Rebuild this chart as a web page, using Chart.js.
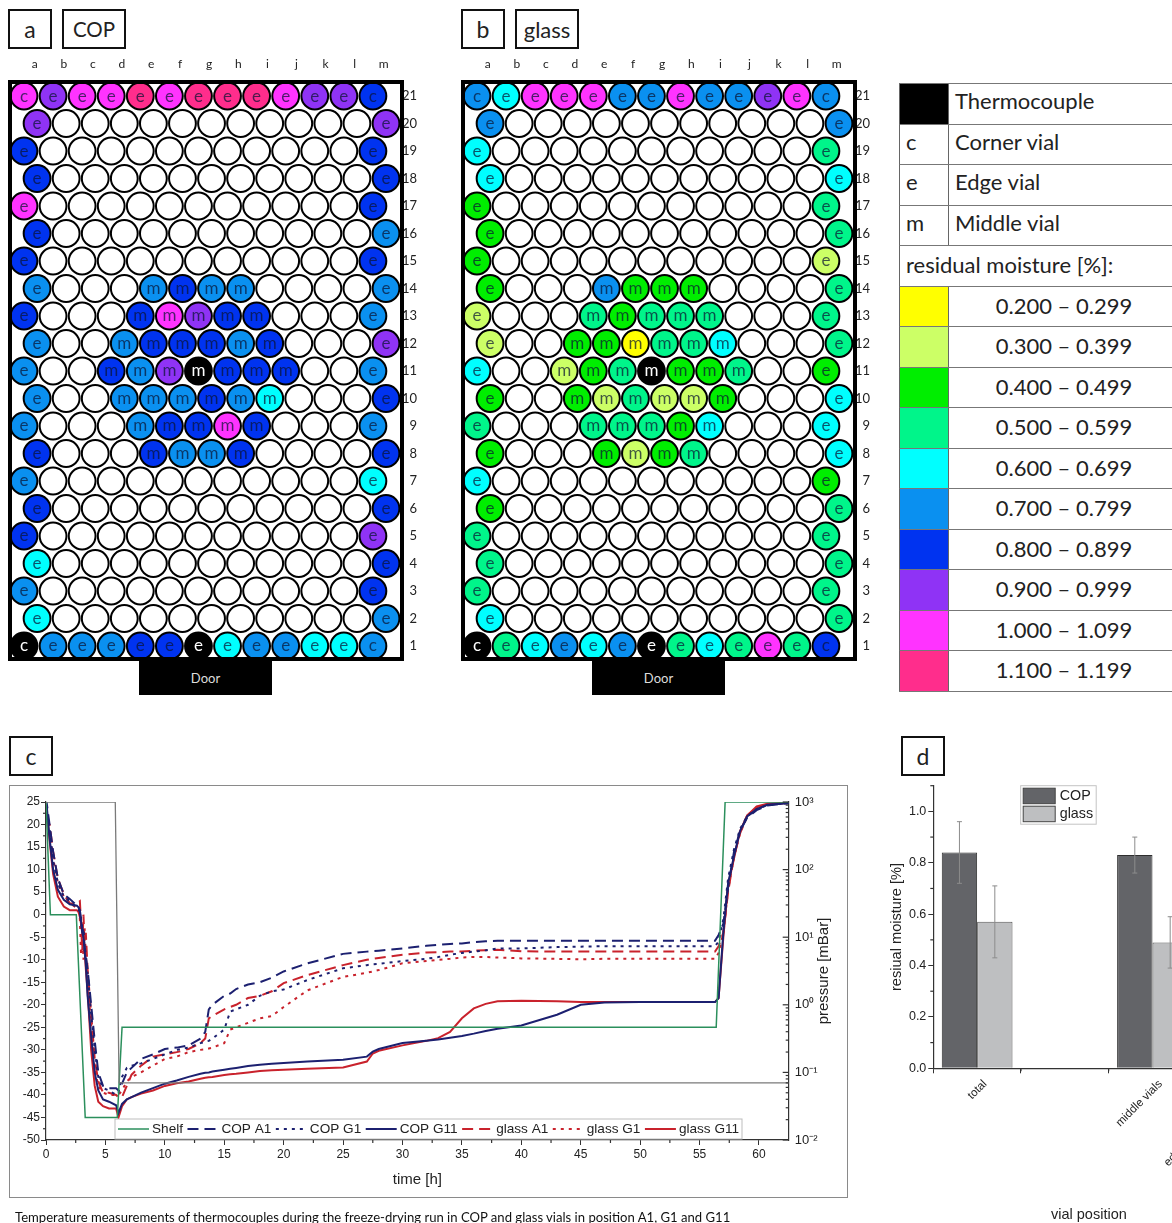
<!DOCTYPE html>
<html>
<head>
<meta charset="utf-8">
<title>Freeze-drying residual moisture</title>
<script src="https://cdn.jsdelivr.net/npm/chart.js@4/dist/chart.umd.min.js"></script>
<style>
html, body { margin: 0; padding: 0; background: #fff; width: 1172px; height: 1223px; overflow: hidden; }
body { position: relative; font-family: 'Lato', sans-serif; color: #222; }
canvas { position: absolute; }
.box { position: absolute; box-sizing: border-box; border: 2px solid #111; display: flex; align-items: center; justify-content: center; font-size: 23px; background: #fff; }
.door { position: absolute; top: 661px; width: 133px; height: 34px; background: #000; color: #ddd; font-size: 13px; display: flex; align-items: center; justify-content: center; }
.frame { position: absolute; left: 9px; top: 785px; width: 839px; height: 413px; box-sizing: border-box; border: 1.5px solid #8a8a8a; }
.key-row { position: absolute; left: 899px; width: 300px; height: 40.5px; box-sizing: border-box; border-top: 1.5px solid #777; border-left: 1.5px solid #666; font-size: 22px; }
.key-row .swatch { position: absolute; left: 0; top: 0; bottom: 0; width: 49px; border-right: 1.5px solid #666; padding-left: 6px; box-sizing: border-box; line-height: 33px; }
.key-row .name { position: absolute; left: 55px; top: 0; line-height: 33px; white-space: nowrap; }
.key-row .range { position: absolute; left: 50px; width: 228px; top: 0; line-height: 38px; text-align: center; }
.key-row .wide { position: absolute; left: 6px; top: 0; line-height: 38px; white-space: nowrap; }
.caption { position: absolute; left: 15px; top: 1209px; font-size: 13.1px; white-space: nowrap; color: #111; }
.xname { position: absolute; left: 1051px; top: 1206px; font: 14.5px 'Liberation Sans', sans-serif; color: #222; }
</style>
</head>
<body>
<div class="box" style="left:8px;top:9px;width:44px;height:40px">a</div>
<div class="box" style="left:62px;top:9px;width:64px;height:40px;font-size:20.5px">COP</div>
<div class="box" style="left:461px;top:9px;width:44px;height:40px">b</div>
<div class="box" style="left:515px;top:9px;width:64px;height:40px;font-size:22px">glass</div>
<div class="box" style="left:9px;top:736px;width:44px;height:40px">c</div>
<div class="box" style="left:901px;top:736px;width:44px;height:40px">d</div>
<canvas id="plateCop" width="417" height="625" style="left:0;top:40px"></canvas>
<canvas id="plateGlass" width="417" height="625" style="left:453px;top:40px"></canvas>
<div class="door" style="left:139px">Door</div>
<div class="door" style="left:592px">Door</div>
<div id="key"></div>
<div class="frame"></div>
<canvas id="runChart" width="839" height="413" style="left:9px;top:785px"></canvas>
<canvas id="barChart" width="404" height="453" style="left:880px;top:770px"></canvas>
<div class="xname">vial position</div>
<div class="caption">Temperature measurements of thermocouples during the freeze-drying run in COP and glass vials in position A1, G1 and G11</div>

<script>
const colLabels = ['a', 'b', 'c', 'd', 'e', 'f', 'g', 'h', 'i', 'j', 'k', 'l', 'm'];
const rowLabels = [21, 20, 19, 18, 17, 16, 15, 14, 13, 12, 11, 10, 9, 8, 7, 6, 5, 4, 3, 2, 1];
const moistureBins = ['0.200 – 0.299', '0.300 – 0.399', '0.400 – 0.499', '0.500 – 0.599', '0.600 – 0.699',
    '0.700 – 0.799', '0.800 – 0.899', '0.900 – 0.999', '1.000 – 1.099', '1.100 – 1.199'];
const binColors = ['#ffff00', '#ccff66', '#00ee00', '#00f58a', '#00ffff', '#0a90f0', '#0033f0', '#8f33f5', '#ff33ff', '#ff2d8c'];

// one string per row, top row first: digit = index in moistureBins, T = thermocouple, . = not measured
const copVials = [
    '8788989998776',
    '7...........7',
    '6...........6',
    '6...........6',
    '8...........6',
    '6...........5',
    '6...........6',
    '5...5655....5',
    '6...68766...5',
    '5..566656...7',
    '5..657T666..5',
    '5..555654...6',
    '5...56686...5',
    '6...6556....6',
    '5...........4',
    '6...........6',
    '6...........7',
    '4...........6',
    '5...........6',
    '4...........5',
    'T55566T455445'
];
const glassVials = [
    '5488855855785',
    '5...........5',
    '4...........3',
    '4...........4',
    '2...........3',
    '2...........3',
    '2...........1',
    '2...5222....3',
    '1...32333...3',
    '1..220334...3',
    '4..123T223..2',
    '2..213112...4',
    '3...33324...4',
    '2...2123....4',
    '4...........2',
    '2...........3',
    '3...........3',
    '3...........3',
    '3...........3',
    '4...........3',
    'T34545T343836'
];

const hours = [0, 0.1, 0.3, 0.6, 1, 1.5, 2, 2.6, 2.75, 2.85, 2.95, 3.05, 3.15, 3.25, 3.35, 3.5, 3.8, 4.1, 4.4, 4.8,
    5.3, 5.9, 6.1, 6.4, 6.8, 7.2, 8, 9, 10, 11, 12, 13, 13.4, 13.7, 14, 15, 15.5, 16, 17, 18,
    19, 20, 22, 25, 27, 27.5, 28, 30, 32, 33, 34, 35, 36, 37, 38, 40, 43, 45, 47, 50,
    56.3, 56.6, 57, 57.4, 57.9, 58.4, 59, 59.8, 60.7, 62.5];
const copA1 = [22, 24, 20, 14, 8, 4.5, 3.5, 2, 1.5, 1, -1, -3, -4, -7, -9, -12, -20, -28, -35, -38,
    -38.5, -38.5, -39, -37.5, -35, -34, -32, -31, -29.8, -29.5, -29, -27.5, -26, -21, -20, -18, -17.5, -16.5, -15.5, -15,
    -14, -12.6, -10.8, -8.7, -8.2, -8.1, -8, -7.5, -6.9, -6.7, -6.5, -6.4, -6.1, -5.9, -5.8, -5.8, -5.8, -5.8, -5.8, -5.8,
    -5.8, -4.5, -2, 6, 14, 18.5, 21.5, 23.2, 24.2, 24.8];
const copG1 = [22, 23, 19, 12, 7, 4, 3, 1.5, 1, 0.8, -1, -4, -3, -8, -10, -13, -22, -30, -36, -38.5,
    -39, -40, -39.5, -36, -34, -33.5, -33, -32, -31, -30, -29.5, -28.5, -28.2, -28, -27.5, -25.5, -21.5, -21, -20, -18,
    -17, -16.6, -14.5, -11.9, -11.2, -11, -10.9, -10.3, -9.8, -9.4, -8.9, -8.5, -8.2, -7.9, -7.5, -7.5, -7.2, -7.1, -7, -7,
    -7, -6, -1, 8, 14.5, 19, 21.8, 23.4, 24.3, 24.8];
const copG11 = [22, 23, 17, 10, 5.5, 3.3, 2.3, 2, 1.6, 0.5, -1.5, -4, -5, -8, -11, -18, -27, -35, -39, -41,
    -41.5, -42.3, -44, -42, -41, -40.5, -39.5, -38.5, -37.5, -36.8, -36, -35.3, -35.1, -35, -34.8, -34.4, -34.2, -34, -33.6, -33.3,
    -33.1, -32.9, -32.6, -32.2, -31.5, -30.4, -29.8, -28.5, -28, -27.7, -27.3, -26.9, -26.4, -25.8, -25.3, -24.6, -22.2, -20, -19.5, -19.4,
    -19.4, -18.5, -4, 7, 13, 18.5, 21.8, 23.4, 24.4, 24.7];
const glassA1 = [22, 21, 20, 14, 8, 4.5, 2.5, 2.5, 2.8, 3, -2, -8, 0, -6, -4, -12, -22, -32, -37, -39.5,
    -39.5, -40, -40.5, -40.5, -38, -35.5, -33.5, -31.5, -31, -30.5, -29.8, -28.5, -27.5, -23, -22.5, -21, -20.5, -20, -18.5, -18,
    -17, -15.2, -13.4, -11.2, -10, -9.8, -9.6, -8.9, -8.4, -8.3, -8.2, -8.2, -8, -7.9, -7.8, -8.1, -8.2, -8.2, -8.2, -8.2,
    -8.2, -7, -4, 5, 13, 18, 22, 23.8, 24.5, 24.8];
const glassG1 = [22, 21, 19, 12.5, 7, 4, 2.5, 1.5, 1.2, -1, -9, -2, -10, -3, -9, -14, -25, -34, -38, -39.5,
    -40, -40, -40, -39, -37, -36, -35, -33.5, -32, -31.5, -30.5, -30, -29.9, -29.7, -29.5, -28.5, -25.5, -25, -24, -23,
    -22.5, -20.5, -16.8, -13.8, -12.9, -12.6, -12.3, -10.8, -10.3, -10, -9.8, -9.5, -9.4, -9.4, -9.5, -9.7, -9.8, -9.9, -9.8, -9.8,
    -9.8, -8.5, -4, 5.5, 13, 18, 21.8, 23.6, 24.4, 24.8];
const glassG11 = [22, 22, 16.5, 9, 4, 1.8, 1, 1, 0.5, -0.5, -2, -4, -5, -8, -12, -17, -30, -38, -41.5, -42.5,
    -43, -43, -45, -42.5, -41, -40.5, -39.7, -39, -38, -37.4, -37, -36.4, -36.2, -36.1, -36, -35.6, -35.4, -35.3, -35, -34.7,
    -34.5, -34.4, -34.2, -33.9, -32.6, -30.8, -30.2, -29, -28, -27.4, -26, -23, -20.8, -19.8, -19.2, -19.1, -19.2, -19.4, -19.4, -19.4,
    -19.4, -18.5, -5, 6.5, 12.5, 18.5, 22, 24, 24.6, 24.8];
const shelfHours = [0, 0.37, 2.55, 3.3, 6, 6.4, 56.4, 57.15, 62.5];
const shelfTemp = [25, 0, 0, -45, -45, -25, -25, 25, 25];
const pressureHours = [0, 5.83, 6.15, 62.5];
const pressureMbar = [1000, 1000, 0.07, 0.07];
const pressureTicks = { 3: '10³', 2: '10²', 1: '10¹', 0: '10⁰', '-1': '10⁻¹', '-2': '10⁻²' };

// the last label runs off the page, only its first letter shows; the rest of it is a guess
const barLabels = ['total', '', 'middle vials', 'edge and corner vials  '];
const barCop = [0.84, null, 0.83, null];
const barGlass = [0.57, null, 0.49, null];
const errCop = [0.12, null, 0.07, null];
const errGlass = [0.14, null, 0.10, null];

const ARIAL = "'Liberation Sans', Arial, sans-serif";
const NAVY = '#1c2070';
const RED = '#c9222c';
const GREEN = '#2b8f5c';

Chart.defaults.animation = false;
Chart.defaults.font.family = ARIAL;
Chart.defaults.color = '#222';
Chart.defaults.plugins.legend.display = false;
Chart.defaults.plugins.tooltip.enabled = false;

function vialKind(row, col) {
    if (row === 1 || row === 21) return col === 0 || col === 12 ? 'c' : 'e';
    return col === 0 || col === 12 ? 'e' : 'm';
}

function buildVials(rows) {
    const vials = [];
    rows.forEach((line, r) => {
        const row = rowLabels[r];
        line.split('').forEach((cell, col) => {
            vials.push({ x: col + (row % 2 === 0 ? 0.45 : 0), y: row, cell: cell, kind: vialKind(row, col) });
        });
    });
    return vials;
}

const plateFrame = {
    id: 'plateFrame',
    afterDatasetsDraw(chart) {
        const { ctx, chartArea: a } = chart;
        ctx.save();

        ctx.font = "17px Lato, sans-serif";
        ctx.textAlign = 'center';
        ctx.textBaseline = 'middle';
        chart.getDatasetMeta(0).data.forEach((pt, i) => {
            const v = chart.data.datasets[0].data[i];
            if (v.cell === '.') return;
            ctx.fillStyle = v.cell === 'T' ? '#fff' : 'rgba(10, 20, 50, 0.72)';
            ctx.fillText(v.kind, pt.x, pt.y);
        });

        ctx.strokeStyle = '#000';
        ctx.lineWidth = 4;
        ctx.strokeRect(a.left, a.top, a.right - a.left, a.bottom - a.top);
        ctx.restore();
    }
};

function drawPlate(id, rows) {
    const vials = buildVials(rows);
    new Chart(document.getElementById(id), {
        type: 'scatter',
        data: {
            datasets: [{
                data: vials,
                clip: false,
                pointRadius: 13.4,
                pointBorderWidth: 2,
                pointBorderColor: '#000',
                pointBackgroundColor: vials.map(v => v.cell === '.' ? '#fff' : v.cell === 'T' ? '#000' : binColors[+v.cell])
            }]
        },
        options: {
            responsive: false,
            layout: { autoPadding: false, padding: { left: 10, bottom: 6 } },
            scales: {
                x: {
                    type: 'linear', position: 'top', min: -0.481, max: 13,
                    grid: { display: false }, border: { display: false },
                    afterBuildTicks: axis => { axis.ticks = colLabels.map((c, i) => ({ value: i + 0.37 })); },
                    afterFit: axis => { axis.height = 42; axis.paddingLeft = 0; axis.paddingRight = 0; },
                    ticks: {
                        autoSkip: false, maxRotation: 0, padding: 3, color: '#222',
                        font: { family: 'Lato', size: 12 },
                        callback: (v, i) => colLabels[i]
                    }
                },
                y: {
                    type: 'linear', position: 'right', min: 0.527, max: 21.51,
                    grid: { display: false }, border: { display: false },
                    afterBuildTicks: axis => { axis.ticks = rowLabels.map(r => ({ value: r })); },
                    afterFit: axis => { axis.width = 15; axis.paddingTop = 0; axis.paddingBottom = 0; },
                    ticks: {
                        autoSkip: false, padding: 2, crossAlign: 'far', color: '#222',
                        font: { family: 'Lato', size: 13 },
                        callback: v => v
                    }
                }
            }
        },
        plugins: [plateFrame]
    });
}

function buildKey() {
    const key = document.getElementById('key');
    const top = 83;
    const step = 40.5;
    const named = [['#000', '', 'Thermocouple'], ['', 'c', 'Corner vial'], ['', 'e', 'Edge vial'], ['', 'm', 'Middle vial']];
    let html = '';
    named.forEach((n, i) => {
        html += `<div class="key-row" style="top:${top + i * step}px">
            <div class="swatch" style="background:${n[0] || 'transparent'}">${n[1]}</div>
            <div class="name">${n[2]}</div></div>`;
    });
    html += `<div class="key-row" style="top:${top + 4 * step}px"><div class="wide">residual moisture [%]:</div></div>`;
    moistureBins.forEach((bin, i) => {
        html += `<div class="key-row" style="top:${top + (5 + i) * step}px">
            <div class="swatch" style="background:${binColors[i]}"></div>
            <div class="range">${bin}</div></div>`;
    });
    html += `<div class="key-row" style="top:${top + 15 * step}px;height:0;border-left:0"></div>`;
    key.innerHTML = html;
}

// Chart.js has one tick length per axis, so the short ticks are drawn here
function tickMarks(ctx, scale, values, len, inward) {
    values.forEach(v => {
        const p = scale.getPixelForValue(v);
        ctx.beginPath();
        if (scale.isHorizontal()) {
            ctx.moveTo(p, scale.top);
            ctx.lineTo(p, scale.top + len);
        } else if (inward) {
            ctx.moveTo(scale.left, p);
            ctx.lineTo(scale.left - len, p);
        } else {
            ctx.moveTo(scale.right, p);
            ctx.lineTo(scale.right - len, p);
        }
        ctx.stroke();
    });
}

const runDecor = {
    id: 'runDecor',
    afterDraw(chart) {
        const { ctx, chartArea: a, scales } = chart;
        ctx.save();
        ctx.strokeStyle = '#333';
        ctx.lineWidth = 1.2;

        const minorX = [];
        for (let t = 2.5; t < 62.5; t += 5) minorX.push(t);
        tickMarks(ctx, scales.x, minorX, 3);
        const minorY = [];
        for (let v = -47.5; v < 25; v += 5) minorY.push(v);
        tickMarks(ctx, scales.y, minorY, 3);

        const decades = [];
        const subs = [];
        for (let e = -2; e <= 3; e++) {
            decades.push(Math.pow(10, e));
            if (e < 3) for (let m = 2; m < 10; m++) subs.push(m * Math.pow(10, e));
        }
        tickMarks(ctx, scales.y2, decades, 6, true);
        tickMarks(ctx, scales.y2, subs, 3, true);

        ctx.fillStyle = '#222';
        ctx.font = '15px ' + ARIAL;
        ctx.save();
        ctx.translate(815, (a.top + a.bottom) / 2);
        ctx.rotate(-Math.PI / 2);
        ctx.textAlign = 'center';
        ctx.textBaseline = 'middle';
        ctx.fillText('pressure [mBar]', 0, 0);
        ctx.restore();

        // legend strip along the bottom of the plot
        const lx = a.left + 69;
        const ly = a.bottom - 21;
        ctx.fillStyle = '#fff';
        ctx.fillRect(lx, ly, 627, 20);
        ctx.strokeStyle = '#bdbdbd';
        ctx.lineWidth = 1;
        ctx.strokeRect(lx, ly, 627, 20);
        ctx.font = '13.6px ' + ARIAL;
        ctx.textBaseline = 'middle';
        ctx.textAlign = 'left';
        let x = lx + 3;
        chart.data.datasets.filter(d => d.inLegend).forEach(d => {
            ctx.strokeStyle = d.borderColor;
            ctx.lineWidth = d.borderWidth;
            ctx.setLineDash(d.borderDash || []);
            ctx.beginPath();
            ctx.moveTo(x, ly + 10);
            ctx.lineTo(x + 31, ly + 10);
            ctx.stroke();
            ctx.setLineDash([]);
            ctx.fillStyle = '#222';
            ctx.fillText(d.label, x + 34, ly + 10);
            x += 34 + ctx.measureText(d.label).width + 4.5;
        });
        ctx.restore();
    }
};

function curve(label, values, color, dash) {
    return {
        label: label,
        inLegend: true,
        data: hours.map((h, i) => ({ x: h, y: values[i] })),
        yAxisID: 'y',
        borderColor: color,
        borderWidth: 2,
        borderDash: dash,
        pointRadius: 0,
        tension: 0
    };
}

function drawRunChart() {
    const LONG = [11, 6];
    const DOT = [3, 5];
    new Chart(document.getElementById('runChart'), {
        type: 'line',
        data: {
            datasets: [
                {
                    label: 'pressure',
                    data: pressureHours.map((h, i) => ({ x: h, y: pressureMbar[i] })),
                    yAxisID: 'y2', borderColor: '#7a7a7a', borderWidth: 1.3, pointRadius: 0, tension: 0
                },
                {
                    label: 'Shelf',
                    inLegend: true,
                    data: shelfHours.map((h, i) => ({ x: h, y: shelfTemp[i] })),
                    yAxisID: 'y', borderColor: GREEN, borderWidth: 1.5, pointRadius: 0, tension: 0
                },
                curve('COP A1', copA1, NAVY, LONG),
                curve('COP G1', copG1, NAVY, DOT),
                curve('COP G11', copG11, NAVY),
                curve('glass A1', glassA1, RED, LONG),
                curve('glass G1', glassG1, RED, DOT),
                curve('glass G11', glassG11, RED)
            ]
        },
        options: {
            responsive: false,
            layout: { padding: { top: 17 } },
            scales: {
                x: {
                    type: 'linear', min: 0, max: 62.5,
                    grid: { drawOnChartArea: false, tickLength: 5, tickColor: '#333' },
                    border: { color: '#333', width: 1.2 },
                    afterFit: axis => { axis.height = 58; },
                    title: { display: true, text: 'time [h]', font: { size: 15 }, padding: { top: 9, bottom: 9 } },
                    ticks: { stepSize: 5, includeBounds: false, maxRotation: 0, font: { size: 12 }, padding: 2 }
                },
                y: {
                    type: 'linear', min: -50, max: 25,
                    grid: { drawOnChartArea: false, tickLength: 5, tickColor: '#333' },
                    border: { color: '#333', width: 1.2 },
                    afterFit: axis => { axis.width = 37; },
                    ticks: { stepSize: 5, font: { size: 12 }, padding: 1 }
                },
                y2: {
                    type: 'logarithmic', position: 'right', min: 0.01, max: 1000,
                    grid: { drawOnChartArea: false, drawTicks: false },
                    border: { color: '#333', width: 1.2 },
                    afterBuildTicks: axis => {
                        axis.ticks = Object.keys(pressureTicks).map(e => ({ value: Math.pow(10, +e) }));
                    },
                    afterFit: axis => { axis.width = 59.3; },
                    ticks: {
                        autoSkip: false, padding: 6, font: { size: 13 },
                        callback: v => pressureTicks[Math.round(Math.log10(v))]
                    }
                }
            }
        },
        plugins: [runDecor]
    });
}

const barDecor = {
    id: 'barDecor',
    afterDatasetsDraw(chart) {
        const { ctx, scales } = chart;
        const errors = [errCop, errGlass];
        ctx.save();
        ctx.strokeStyle = '#8c8c8c';
        ctx.lineWidth = 1;
        chart.data.datasets.forEach((ds, d) => {
            chart.getDatasetMeta(d).data.forEach((bar, i) => {
                if (ds.data[i] === null) return;
                const hi = scales.y.getPixelForValue(ds.data[i] + errors[d][i]);
                const lo = scales.y.getPixelForValue(ds.data[i] - errors[d][i]);
                ctx.beginPath();
                ctx.moveTo(bar.x, hi);
                ctx.lineTo(bar.x, lo);
                ctx.moveTo(bar.x - 2.5, hi);
                ctx.lineTo(bar.x + 2.5, hi);
                ctx.moveTo(bar.x - 2.5, lo);
                ctx.lineTo(bar.x + 2.5, lo);
                ctx.stroke();
            });
        });

        ctx.strokeStyle = '#333';
        ctx.lineWidth = 1.2;
        tickMarks(ctx, scales.y, [0.1, 0.3, 0.5, 0.7, 0.9, 1.1], 3);
        const band = scales.x.getPixelForValue(1) - scales.x.getPixelForValue(0);
        [0.5, 1.5, 2.5].forEach(v => {
            const p = scales.x.getPixelForValue(0) + v * band;
            ctx.beginPath();
            ctx.moveTo(p, scales.x.top);
            ctx.lineTo(p, scales.x.top + 3);
            ctx.stroke();
        });

        // legend box, top of the plot
        const lx = 140.7;
        const ly = 15.7;
        ctx.fillStyle = '#fff';
        ctx.fillRect(lx, ly, 75.5, 38.5);
        ctx.strokeStyle = '#c4c4c4';
        ctx.lineWidth = 1;
        ctx.strokeRect(lx, ly, 75.5, 38.5);
        ctx.font = '14.3px ' + ARIAL;
        ctx.textBaseline = 'middle';
        chart.data.datasets.forEach((ds, d) => {
            const y = ly + 2.5 + d * 18;
            ctx.fillStyle = ds.backgroundColor;
            ctx.strokeStyle = '#444';
            ctx.fillRect(lx + 2.5, y, 32, 15.5);
            ctx.strokeRect(lx + 2.5, y, 32, 15.5);
            ctx.fillStyle = '#222';
            ctx.fillText(ds.label, lx + 39, y + 8);
        });
        ctx.restore();
    }
};

function drawBarChart() {
    new Chart(document.getElementById('barChart'), {
        type: 'bar',
        data: {
            labels: barLabels,
            datasets: [
                { label: 'COP', data: barCop, backgroundColor: '#636468', borderColor: '#2e2e2e', borderWidth: 1 },
                { label: 'glass', data: barGlass, backgroundColor: '#bebfc1', borderColor: '#555', borderWidth: 1 }
            ]
        },
        options: {
            responsive: false,
            layout: { padding: { top: 15.7 } },
            datasets: { bar: { barPercentage: 1, categoryPercentage: 0.807 } },
            scales: {
                x: {
                    grid: { drawOnChartArea: false, tickLength: 5, tickColor: '#333' },
                    border: { color: '#333', width: 1.2 },
                    afterFit: axis => { axis.height = 154.7; },
                    ticks: { autoSkip: false, minRotation: 45, maxRotation: 45, labelOffset: 8, font: { size: 11.5 }, padding: 4 }
                },
                y: {
                    min: 0, max: 1.1,
                    grid: { drawOnChartArea: false, tickLength: 5, tickColor: '#333' },
                    border: { color: '#333', width: 1.2 },
                    afterFit: axis => { axis.width = 53.3; },
                    title: { display: true, text: 'resiual moisture [%]', font: { size: 14.6 }, padding: { top: 8, bottom: 8 } },
                    ticks: { stepSize: 0.2, includeBounds: false, font: { size: 12.5 }, padding: 2, callback: v => v.toFixed(1) }
                }
            }
        },
        plugins: [barDecor]
    });
}

document.addEventListener('DOMContentLoaded', () => {
    drawPlate('plateCop', copVials);
    drawPlate('plateGlass', glassVials);
    buildKey();
    drawRunChart();
    drawBarChart();
});
</script>
</body>
</html>
